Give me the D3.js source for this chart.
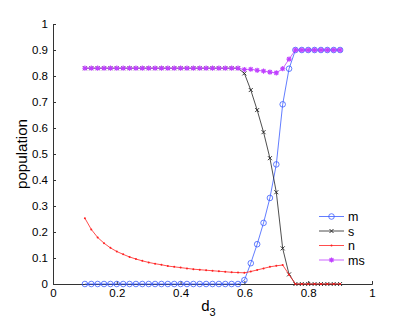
<!DOCTYPE html>
<html>
<head>
<meta charset="utf-8">
<script src="https://cdn.jsdelivr.net/npm/d3@7"></script>
<style>
  html, body { margin: 0; padding: 0; background: #fff; }
  text { font-family: "Liberation Sans", Arial, sans-serif; fill: #000; }
</style>
</head>
<body>
<div id="grafico"></div>
<script>
// datos
const d3vals = [0.10, 0.12, 0.14, 0.16, 0.18, 0.20, 0.22, 0.24, 0.26, 0.28,
                0.30, 0.32, 0.34, 0.36, 0.38, 0.40, 0.42, 0.44, 0.46, 0.48,
                0.50, 0.52, 0.54, 0.56, 0.58, 0.60, 0.62, 0.64, 0.66, 0.68,
                0.70, 0.72, 0.74, 0.76, 0.78, 0.80, 0.82, 0.84, 0.86, 0.88, 0.90];
const mVals = [0, 0, 0, 0, 0, 0, 0, 0, 0, 0,
               0, 0, 0, 0, 0, 0, 0, 0, 0, 0,
               0, 0, 0, 0, 0, 0.015, 0.08, 0.153, 0.235, 0.331,
               0.46, 0.691, 0.828, 0.9, 0.9, 0.9, 0.9, 0.9, 0.9, 0.9, 0.9];
const sVals = [0.83, 0.83, 0.83, 0.83, 0.83, 0.83, 0.83, 0.83, 0.83, 0.83,
               0.83, 0.83, 0.83, 0.83, 0.83, 0.83, 0.83, 0.83, 0.83, 0.83,
               0.83, 0.83, 0.83, 0.83, 0.83, 0.81, 0.746, 0.669, 0.584, 0.484,
               0.353, 0.137, 0.037, 0, 0, 0, 0, 0, 0, 0, 0];
const nVals = [0.253, 0.21, 0.179, 0.157, 0.139, 0.125, 0.114, 0.104, 0.096, 0.089,
               0.083, 0.078, 0.074, 0.069, 0.066, 0.063, 0.060, 0.057, 0.055, 0.053,
               0.051, 0.049, 0.047, 0.045, 0.044, 0.043, 0.048, 0.054, 0.060, 0.066,
               0.070, 0.073, 0.036, 0, 0, 0, 0, 0, 0, 0, 0];
const msVals = [0.83, 0.83, 0.83, 0.83, 0.83, 0.83, 0.83, 0.83, 0.83, 0.83,
                0.83, 0.83, 0.83, 0.83, 0.83, 0.83, 0.83, 0.83, 0.83, 0.83,
                0.83, 0.83, 0.83, 0.83, 0.83, 0.825, 0.826, 0.822, 0.819, 0.815,
                0.812, 0.828, 0.865, 0.9, 0.9, 0.9, 0.9, 0.9, 0.9, 0.9, 0.9];
const xTicks = [0, 0.2, 0.4, 0.6, 0.8, 1];
const yTicks = [0, 0.1, 0.2, 0.3, 0.4, 0.5, 0.6, 0.7, 0.8, 0.9, 1];
const seriesNames = ["m", "s", "n", "ms"];
const seriesColors = ["#3a5cff", "#222222", "#ff2020", "#c040ff"];
const seriesMarkers = ["circle", "cross", "dot", "star"];

const width = 411, height = 320;
const margin = {top: 24, right: 39, bottom: 36, left: 53};

const svg = d3.select("#grafico").append("svg")
  .attr("width", width).attr("height", height);

const x = d3.scaleLinear().domain([0, 1]).range([margin.left, width - margin.right]);
const y = d3.scaleLinear().domain([0, 1]).range([height - margin.bottom, margin.top]);

// ejes (ticks hacia dentro)
const ax = svg.append("g")
  .attr("transform", `translate(0,${height - margin.bottom})`)
  .call(d3.axisBottom(x).tickValues(xTicks).tickSize(-3).tickPadding(5).tickFormat(d3.format("")));
const ay = svg.append("g")
  .attr("transform", `translate(${margin.left},0)`)
  .call(d3.axisLeft(y).tickValues(yTicks).tickSize(-3).tickPadding(5).tickFormat(d3.format("")));
[ax, ay].forEach(g => {
  g.select(".domain").attr("stroke", "#333").attr("stroke-width", 1);
  g.selectAll(".tick line").attr("stroke", "#333");
  g.selectAll(".tick text").style("font-size", "11.5px").attr("fill", "#111");
});

// etiquetas
const xl = svg.append("text")
  .attr("x", (margin.left + width - margin.right) / 2 - 4)
  .attr("y", 311)
  .attr("text-anchor", "middle")
  .style("font-size", "15px");
xl.append("tspan").text("d");
xl.append("tspan").attr("dy", 5).style("font-size", "11px").text("3");

svg.append("text")
  .attr("transform", `translate(27,${(margin.top + height - margin.bottom) / 2}) rotate(-90)`)
  .attr("text-anchor", "middle")
  .style("font-size", "15.2px")
  .text("population");

function drawMarker(g, type, cx, cy, color) {
  if (type === "circle") {
    g.append("circle").attr("cx", cx).attr("cy", cy).attr("r", 2.8)
      .attr("fill", "none").attr("stroke", color).attr("stroke-width", 0.8);
  } else if (type === "cross") {
    const r = 2;
    g.append("path").attr("d", `M${cx - r},${cy - r}L${cx + r},${cy + r}M${cx - r},${cy + r}L${cx + r},${cy - r}`)
      .attr("stroke", color).attr("stroke-width", 0.9);
  } else if (type === "dot") {
    g.append("circle").attr("cx", cx).attr("cy", cy).attr("r", 1)
      .attr("fill", color);
  } else {
    const r = 2.6, q = 1.9;
    g.append("path").attr("d",
      `M${cx - r},${cy}L${cx + r},${cy}M${cx},${cy - r}L${cx},${cy + r}` +
      `M${cx - q},${cy - q}L${cx + q},${cy + q}M${cx - q},${cy + q}L${cx + q},${cy - q}`)
      .attr("stroke", color).attr("stroke-width", 1.1);
  }
}

const allVals = [mVals, sVals, nVals, msVals];
const line = d3.line().x(d => x(d[0])).y(d => y(d[1]));

allVals.forEach((vals, i) => {
  const pts = d3vals.map((v, j) => [v, vals[j]]);
  const g = svg.append("g");
  g.append("path").datum(pts).attr("d", line)
    .attr("fill", "none").attr("stroke", seriesColors[i]).attr("stroke-width", 0.8);
  pts.forEach(p => drawMarker(g, seriesMarkers[i], x(p[0]), y(p[1]), seriesColors[i]));
});

// leyenda
const lg = svg.append("g");
seriesNames.forEach((name, i) => {
  const ly = 216.5 + i * 14.5;
  lg.append("line").attr("x1", 319).attr("x2", 344).attr("y1", ly).attr("y2", ly)
    .attr("stroke", seriesColors[i]).attr("stroke-width", 0.8);
  drawMarker(lg, seriesMarkers[i], 331.5, ly, seriesColors[i]);
  lg.append("text").attr("x", 348).attr("y", ly + 4.5)
    .style("font-size", "12.5px").text(name);
});
</script>
</body>
</html>
